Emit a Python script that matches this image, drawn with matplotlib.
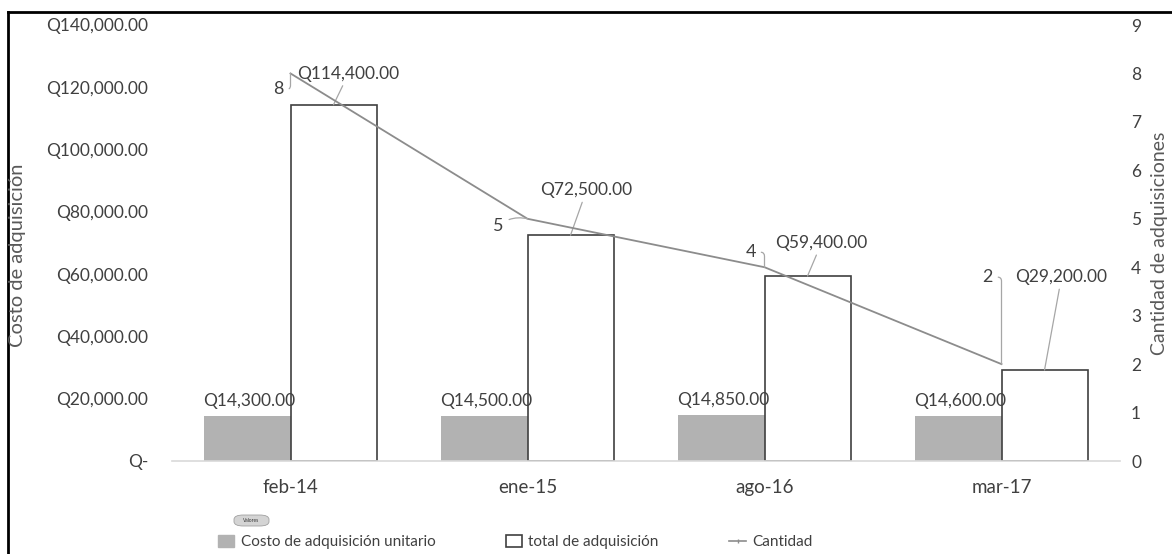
import numpy as np
import matplotlib
matplotlib.use("Agg")
import matplotlib.pyplot as plt
from matplotlib.patches import Patch, FancyBboxPatch
from matplotlib.lines import Line2D
from matplotlib.ticker import FuncFormatter

# Adquisiciones por fecha
categorias = ["feb-14", "ene-15", "ago-16", "mar-17"]
costo_unitario = [14300, 14500, 14850, 14600]
total_adquisicion = [114400, 72500, 59400, 29200]
cantidad = [8, 5, 4, 2]

plt.rcParams["font.family"] = ["Lato", "DejaVu Sans"]

TXT = "#404040"
TITLE = "#595959"
GRIS = "#b2b2b2"
LINEA = "#8c8c8c"
GUIA = "#a6a6a6"
PX = 0.72  # points per pixel at dpi=100

W, H = 1172, 554
fig = plt.figure(figsize=(W / 100, H / 100), dpi=100)
ax = fig.add_axes([172 / W, 93 / H, (1120 - 172) / W, (529 - 93) / H])
ax2 = ax.twinx()

x = np.arange(len(categorias))
w = 0.363

ax.bar(x - w / 2, costo_unitario, width=w, color=GRIS, zorder=2)
ax.bar(x + w / 2, total_adquisicion, width=w, facecolor="white",
       edgecolor="#404040", linewidth=1.2, zorder=2)
ax2.plot(x, cantidad, color=LINEA, linewidth=1.3, zorder=3)

ax.set_xlim(-0.5, len(categorias) - 0.5)
ax.set_ylim(0, 140000)
ax.set_yticks(np.arange(0, 140001, 20000))
ax.yaxis.set_major_formatter(FuncFormatter(
    lambda v, p: "Q-" if v == 0 else f"Q{v:,.2f}"))
ax2.set_ylim(0, 9)
ax2.set_yticks(range(10))

ax.set_xticks(x)
ax.set_xticklabels(categorias)
ax.tick_params(axis="x", length=0, pad=13, labelsize=13.5, labelcolor=TXT)
ax.tick_params(axis="y", length=0, pad=17, labelsize=12.5, labelcolor=TXT)
ax2.tick_params(axis="y", length=0, pad=8, labelsize=12.5, labelcolor=TXT)

for a in (ax, ax2):
    for s in a.spines.values():
        s.set_visible(False)
ax.spines["bottom"].set_visible(True)
ax.spines["bottom"].set_color("#d9d9d9")
ax.spines["bottom"].set_linewidth(1.2)

# etiquetas de costo unitario sobre las barras grises
for i, v in enumerate(costo_unitario):
    ax.annotate(f"Q{v:,.2f}", (x[i] - w / 2, v), xytext=(2 * PX, 15 * PX),
                textcoords="offset points", ha="center", va="center",
                fontsize=12.5, color=TXT, zorder=5)

# etiquetas del total con lineas guia
off_total = [(15, 31), (16, 45), (14, 33), (17, 93)]
for i, v in enumerate(total_adquisicion):
    dx, dy = off_total[i]
    ax.annotate(f"Q{v:,.2f}", (x[i] + w / 2, v), xytext=(dx * PX, dy * PX),
                textcoords="offset points", ha="center", va="center",
                fontsize=12.5, color=TXT, zorder=5,
                arrowprops=dict(arrowstyle="-", color=GUIA, lw=0.9,
                                shrinkA=1, shrinkB=0))

# etiquetas de cantidad, guia horizontal que baja al punto
off_cant = [(-12, -16), (-29, -7), (-14, 15), (-14, 87)]
for i, v in enumerate(cantidad):
    dx, dy = off_cant[i]
    estilo = ("arc3,rad=-0.25" if i == 1 else
              "angle,angleA=0,angleB=90,rad=4")
    ax2.annotate(str(v), (x[i], v), xytext=(dx * PX, dy * PX),
                 textcoords="offset points", ha="center", va="center",
                 fontsize=13, color=TXT, zorder=5,
                 arrowprops=dict(arrowstyle="-", color=GUIA, lw=0.9,
                                 shrinkA=2, shrinkB=0,
                                 connectionstyle=estilo))

fig.text(18 / W, 1 - 255 / H, "Costo de adquisición", rotation=90,
         ha="center", va="center", fontsize=14.5, color=TITLE)
fig.text(1160 / W, 1 - 243 / H, "Cantidad de adquisiciones", rotation=90,
         ha="center", va="center", fontsize=14, color=TITLE)

# boton "Valores"
fig.patches.append(FancyBboxPatch((234 / W, 1 - 526 / H), 35 / W, 11 / H,
                                  boxstyle="round,pad=0,rounding_size=0.008",
                                  transform=fig.transFigure, facecolor="#d4d4d4",
                                  edgecolor="#a0a0a0", linewidth=0.6))
fig.text(251.5 / W, 1 - 520.5 / H, "Valores", ha="center", va="center",
         fontsize=3.5, color="#333333")

handles = [
    Patch(facecolor=GRIS, edgecolor=GRIS),
    Patch(facecolor="white", edgecolor="#404040", linewidth=1.2),
    Line2D([], [], color=LINEA, linewidth=1.2, marker="|", markersize=3),
]
labels = ["Costo de adquisición unitario", "total de adquisición", "Cantidad"]
leg = fig.legend(handles, labels, loc="center", bbox_to_anchor=(515 / W, 12 / H),
                 ncol=3, frameon=False, fontsize=11, handlelength=1.1,
                 handleheight=0.8, handletextpad=0.4, columnspacing=4.6)
for t in leg.get_texts():
    t.set_color(TXT)

# marco exterior
fig.add_artist(Line2D([7.5 / W, 7.5 / W], [0, 1 - 12 / H], color="black",
                      linewidth=2, transform=fig.transFigure))
fig.add_artist(Line2D([7.5 / W, 1], [1 - 12 / H, 1 - 12 / H], color="black",
                      linewidth=2, transform=fig.transFigure))

fig.savefig("out.png", dpi=100)
